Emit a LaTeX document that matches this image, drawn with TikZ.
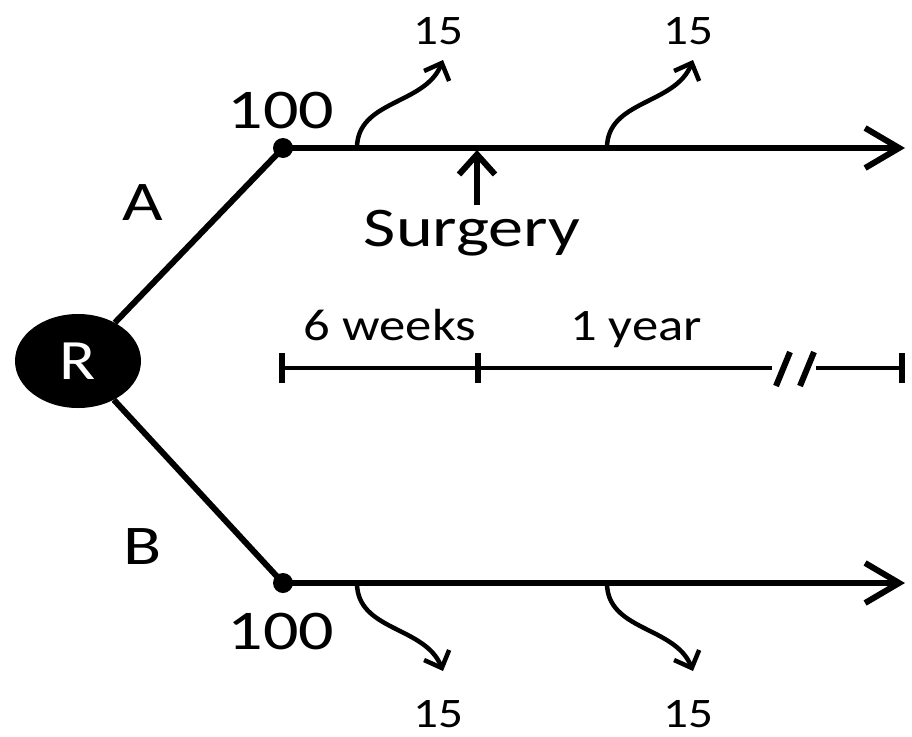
\documentclass[tikz,border=0pt]{standalone}
\usepackage{fontspec}
\setmainfont{Carlito}
\usetikzlibrary{arrows.meta,shapes.geometric}

\begin{document}
\begin{tikzpicture}[x=1pt, y=-1pt,
        lbl/.style={inner sep=0pt, anchor=base, xscale=1.17},
        big/.style={lbl, xscale=1.07, font=\fontsize{56}{56}\selectfont},
        mid/.style={lbl, font=\fontsize{45}{45}\selectfont},
        small/.style={lbl, font=\fontsize{42}{42}\selectfont},
        arm/.style={line width=6pt},
        track/.style={line width=6pt, -{Straight Barb[length=34pt, width=40pt]}},
        loss/.style={line width=4.5pt, -{Straight Barb[length=14pt, width=27pt]}},
        tline/.style={line width=4pt},
        tickmark/.style={line width=6pt}
    ]
        \useasboundingbox (0,0) rectangle (912,736);

        % randomisation node and branch points
        \node[ellipse, fill=black, minimum width=126pt, minimum height=94pt, inner sep=0pt] (R) at (78,361) {};
        \node[lbl, white, font=\fontsize{57}{57}\selectfont, anchor=center] at (R) {R};
        \node[circle, fill=black, minimum size=20pt, inner sep=0pt] (dA) at (283,148) {};
        \node[circle, fill=black, minimum size=20pt, inner sep=0pt] (dB) at (283,583) {};
        \coordinate (endA) at (905,148);
        \coordinate (endB) at (905,583);

        \draw[arm] (R) -- (dA.center);
        \draw[arm] (R) -- (dB.center);
        \draw[track] (dA.center) -- (endA);
        \draw[track] (dB.center) -- (endB);

        \node[big] (labA) at (143,220) {A};
        \node[big] (labB) at (143,564) {B};
        \node[big] (nA) at (281,128) {100};
        \node[big] (nB) at (281,649) {100};

        % surgery marker
        \coordinate (sgTop) at (477,150);
        \node[big] (sg) at (472,246) {Surgery};
        \draw[line width=6pt, -{Straight Barb[length=20pt, width=36pt]}] (477,205) coordinate (sgBot) -- (sgTop);

        % drop-outs
        \coordinate (uA1) at (357,148);
        \coordinate (uA2) at (607,148);
        \coordinate (uB1) at (357,583);
        \coordinate (uB2) at (607,583);
        \coordinate (tA1) at (443,60);
        \coordinate (tA2) at (693,60);
        \coordinate (tB1) at (443,671);
        \coordinate (tB2) at (693,671);
        \draw[loss] (uA1) .. controls +(0,-48) and +(-18,45) .. (tA1);
        \draw[loss] (uA2) .. controls +(0,-48) and +(-18,45) .. (tA2);
        \draw[loss] (uB1) .. controls +(0,48) and +(-18,-45) .. (tB1);
        \draw[loss] (uB2) .. controls +(0,48) and +(-18,-45) .. (tB2);
        \node[small] (lA1) at (438,44) {15};
        \node[small] (lA2) at (688,44) {15};
        \node[small] (lB1) at (438,727) {15};
        \node[small] (lB2) at (688,727) {15};

        % time line
        \coordinate (t0) at (282,368);
        \coordinate (t1) at (478,368);
        \coordinate (gap0) at (772,368);
        \coordinate (gap1) at (816,368);
        \coordinate (t2) at (902,368);
        \draw[tline] (t0) -- (gap0);
        \draw[tline] (gap1) -- (t2);
        \foreach \t in {t0,t1,t2}
            \draw[tickmark] ([yshift=-15pt]\t) -- ([yshift=15pt]\t);
        \draw[tickmark] (776,386) -- (790,352);
        \draw[tickmark] (800,386) -- (814,352);
        \node[mid] (w6) at (390,340) {6 weeks};
        \node[mid] (y1) at (636,340) {1 year};
\end{tikzpicture}
\end{document}
